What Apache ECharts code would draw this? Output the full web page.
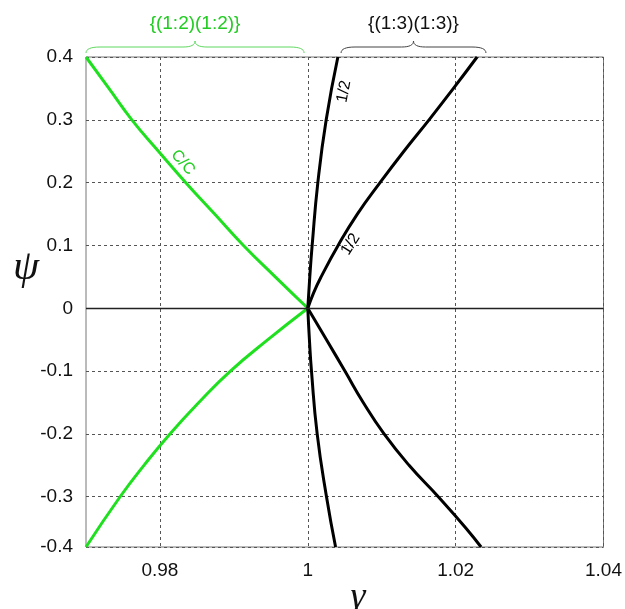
<!DOCTYPE html>
<html>
<head>
<meta charset="utf-8">
<script src="https://cdn.jsdelivr.net/npm/echarts@6/dist/echarts.min.js"></script>
<style>html,body{margin:0;padding:0;background:#fff}#c{width:625px;height:609px}</style>
</head>
<body>
<div id="c"></div>
<script>
// ---- data (gamma = x, psi = y) ----
const greenUpperY = [0, 0.05, 0.1, 0.15, 0.2, 0.25, 0.3, 0.35, 0.4];
const greenUpperX = [1.0, 0.9956, 0.9913, 0.9874, 0.9835, 0.9798, 0.9762, 0.9731, 0.97];
const greenLowerY = [0, -0.05, -0.1, -0.15, -0.2, -0.25, -0.3, -0.38];
const greenLowerX = [1.0, 0.9946, 0.98953, 0.98526, 0.98135, 0.97784, 0.97461, 0.97];

const aUpperY = [0, 0.05, 0.1, 0.2, 0.3, 0.4];
const aUpperX = [1.0, 1.00027, 1.00059, 1.00136, 1.00249, 1.00407];
const aLowerY = [0, -0.05, -0.1, -0.2, -0.3, -0.38];
const aLowerX = [1.0, 1.00022, 1.0005, 1.00127, 1.00253, 1.00376];

const bUpperY = [0, 0.025, 0.05, 0.1, 0.15, 0.2, 0.25, 0.3, 0.35, 0.4];
const bUpperX = [1.0, 1.0008, 1.0018, 1.0041, 1.0067, 1.00977, 1.0130, 1.0164, 1.0197, 1.0229];
const bLowerY = [0, -0.05, -0.1, -0.15, -0.2, -0.25, -0.3, -0.35, -0.38];
const bLowerX = [1.0, 1.00253, 1.00502, 1.0075, 1.01032, 1.0137, 1.01765, 1.0214, 1.02344];

const xTicks = [0.98, 1.0, 1.02, 1.04];
const yTicks = [-0.38, -0.3, -0.2, -0.1, 0, 0.1, 0.2, 0.3, 0.4];
const yTickLabels = ['-0.4', '-0.3', '-0.2', '-0.1', '0', '0.1', '0.2', '0.3', '0.4'];

const braceGreenRange = [0.97, 0.9995];
const braceBlackRange = [1.0045, 1.0241];
const braceGreenText = '{(1:2)(1:2)}';
const braceBlackText = '{(1:3)(1:3)}';
const curveLabels = [
  {text: 'C/C', at: [0.9831, 0.232], angle: -49, color: '#1fd01f'},
  {text: '1/2', at: [1.0049, 0.345], angle: 79, color: '#000'},
  {text: '1/2', at: [1.0058, 0.102], angle: 58, color: '#000'}
];

const pairs = (xs, ys) => xs.map((x, i) => [x, ys[i]]);
const GREEN = '#1fe01f';
const chart = echarts.init(document.getElementById('c'), null, {renderer: 'canvas'});
const lineSeries = (xs, ys, color) => ({
  type: 'line', data: pairs(xs, ys), showSymbol: false, smooth: true,
  lineStyle: {color: color, width: 3}, silent: true, animation: false
});
const gridLine = {show: true, lineStyle: {color: '#555', width: 1, type: [3, 3]}};
const labelFont = {fontFamily: 'Liberation Sans, Arial, sans-serif', fontSize: 19, color: '#111'};

const series = [
  lineSeries(greenUpperX, greenUpperY, GREEN),
  lineSeries(greenLowerX, greenLowerY, GREEN),
  lineSeries(aUpperX, aUpperY, '#000'),
  lineSeries(aLowerX, aLowerY, '#000'),
  lineSeries(bUpperX, bUpperY, '#000'),
  lineSeries(bLowerX, bLowerY, '#000')
];
series[0].markLine = {
  silent: true, symbol: 'none', label: {show: false},
  lineStyle: {color: '#222', type: 'solid', width: 1.3},
  data: [{yAxis: 0}]
};

chart.setOption({
  animation: false,
  backgroundColor: '#fff',
  grid: {left: 86, right: 21, top: 57, bottom: 62, show: true, borderColor: '#777', borderWidth: 1},
  xAxis: {
    type: 'value', min: 0.97, max: 1.04,
    axisLine: {show: false}, axisTick: {show: false, customValues: xTicks},
    axisLabel: Object.assign({customValues: xTicks, margin: 14,
      formatter: v => String(+v.toFixed(2))}, labelFont),
    splitLine: gridLine
  },
  yAxis: {
    type: 'value', min: -0.38, max: 0.4,
    axisLine: {show: false}, axisTick: {show: false, customValues: yTicks},
    axisLabel: Object.assign({customValues: yTicks, margin: 13,
      formatter: v => { const i = yTicks.findIndex(t => Math.abs(t - v) < 1e-6); return i >= 0 ? yTickLabels[i] : ''; }}, labelFont),
    splitLine: gridLine
  },
  series: series
});

function quad(p0, c, p1, n) {
  const pts = [];
  for (let i = 0; i <= n; i++) {
    const t = i / n, u = 1 - t;
    pts.push([u*u*p0[0] + 2*u*t*c[0] + t*t*p1[0], u*u*p0[1] + 2*u*t*c[1] + t*t*p1[1]]);
  }
  return pts;
}
function brace(range, color, yBase) {
  const x0 = chart.convertToPixel({gridIndex: 0}, [range[0], 0])[0];
  const x1 = chart.convertToPixel({gridIndex: 0}, [range[1], 0])[0];
  const m = (x0 + x1) / 2;
  const yb = yBase, yl = yBase - 6, yt = yBase - 12;
  let pts = [];
  pts = pts.concat(quad([x0, yb], [x0, yl], [x0 + 14, yl], 8));
  pts = pts.concat(quad([m - 12, yl], [m, yl], [m, yt], 8));
  pts = pts.concat(quad([m, yt], [m, yl], [m + 12, yl], 8));
  pts = pts.concat(quad([x1 - 14, yl], [x1, yl], [x1, yb], 8));
  return {g: {type: 'polyline', shape: {points: pts}, style: {fill: null, stroke: color, lineWidth: 1}, silent: true}, mid: m};
}
const bg = brace(braceGreenRange, '#5fd85f', 53);
const bb = brace(braceBlackRange, '#444', 53);
const graphics = [
  bg.g, bb.g,
  {type: 'text', x: bg.mid, y: 24, style: {text: braceGreenText, fill: '#22cc22', font: '19px "Liberation Sans", Arial, sans-serif', align: 'center', verticalAlign: 'middle'}},
  {type: 'text', x: bb.mid, y: 24, style: {text: braceBlackText, fill: '#111', font: '19px "Liberation Sans", Arial, sans-serif', align: 'center', verticalAlign: 'middle'}},
  {type: 'text', x: 26, y: 268, style: {text: 'ψ', fill: '#111', font: 'italic 42px "Liberation Serif", "DejaVu Serif", serif', align: 'center', verticalAlign: 'middle'}},
  {type: 'text', x: 358, y: 598, style: {text: 'γ', fill: '#111', font: 'italic 38px "Liberation Serif", "DejaVu Serif", serif', align: 'center', verticalAlign: 'middle'}}
];
curveLabels.forEach(l => {
  const p = chart.convertToPixel({gridIndex: 0}, l.at);
  graphics.push({type: 'text', x: p[0], y: p[1], rotation: l.angle * Math.PI / 180,
    style: {text: l.text, fill: l.color, font: '16px "Liberation Sans", Arial, sans-serif', align: 'center', verticalAlign: 'middle'}, silent: true});
});
chart.setOption({graphic: graphics});
</script>
</body>
</html>
